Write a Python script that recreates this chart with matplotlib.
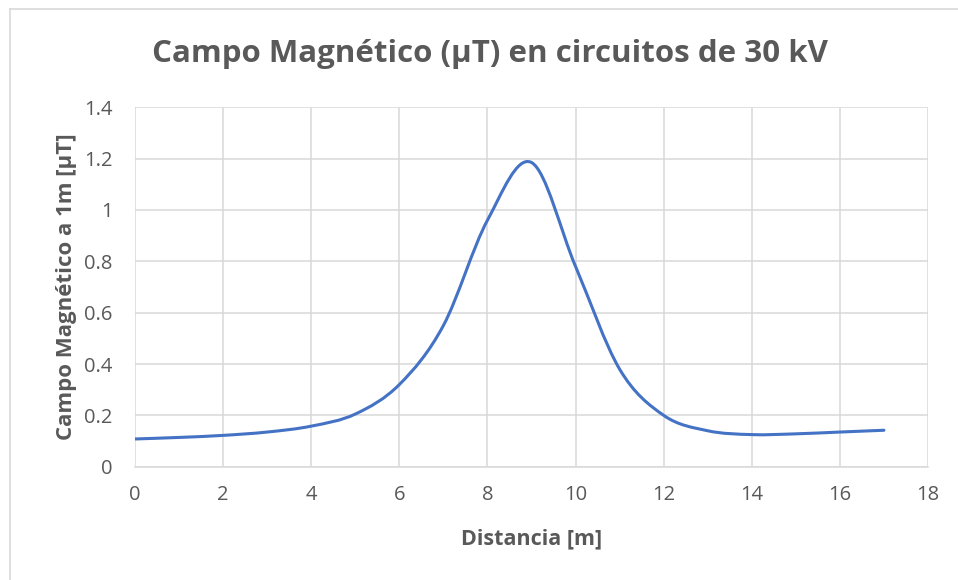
import matplotlib
matplotlib.use("Agg")
import matplotlib.pyplot as plt
from matplotlib.path import Path
from matplotlib.patches import PathPatch
from matplotlib.lines import Line2D
import numpy as np

# Data
distancia = [0, 1, 2, 3, 4, 5, 6, 7, 8, 9, 10, 11, 12, 13, 14, 15, 16, 17]
campo = [0.108, 0.114, 0.122, 0.135, 0.158, 0.205, 0.32, 0.55, 0.96, 1.185,
         0.78, 0.38, 0.20, 0.14, 0.125, 0.128, 0.135, 0.142]
x_ticks = [0, 2, 4, 6, 8, 10, 12, 14, 16, 18]
y_ticks = [0, 0.2, 0.4, 0.6, 0.8, 1.0, 1.2, 1.4]
y_ticklabels = ["0", "0.2", "0.4", "0.6", "0.8", "1", "1.2", "1.4"]
title = "Campo Magnético (µT) en circuitos de 30 kV"
xlabel = "Distancia [m]"
ylabel = "Campo Magnético a 1m [µT]"

plt.rcParams['font.family'] = ['Open Sans', 'DejaVu Sans']
GREY = "#595959"
GRID = "#d9d9d9"
BLUE = "#4472C4"

W, H = 958, 580
fig = plt.figure(figsize=(W / 100, H / 100), dpi=100)
ax = fig.add_axes([135 / W, 1 - 466.7 / H, (928 - 135) / W, (466.7 - 107.3) / H])

# Excel-style smoothed line (Bezier through data points)
pts = np.column_stack([distancia, campo]).astype(float)
n = len(pts)
verts = [tuple(pts[0])]
codes = [Path.MOVETO]
for i in range(n - 1):
    p0 = pts[i - 1] if i > 0 else pts[i]
    p1 = pts[i]
    p2 = pts[i + 1]
    p3 = pts[i + 2] if i + 2 < n else pts[i + 1]
    c1 = p1 + (p2 - p0) / 6.0
    c2 = p2 - (p3 - p1) / 6.0
    verts += [tuple(c1), tuple(c2), tuple(p2)]
    codes += [Path.CURVE4] * 3
patch = PathPatch(Path(verts, codes), facecolor='none', edgecolor=BLUE,
                  linewidth=2.2, capstyle='round', joinstyle='round', zorder=3)
ax.add_patch(patch)

ax.set_xlim(0, 18)
ax.set_ylim(0, 1.4)
ax.set_xticks(x_ticks)
ax.set_yticks(y_ticks)
ax.set_yticklabels(y_ticklabels)
ax.grid(True, color=GRID, linewidth=1.1)
ax.set_axisbelow(True)
for s in ['top', 'right', 'left']:
    ax.spines[s].set_visible(False)
ax.spines['bottom'].set_color(GRID)
ax.spines['bottom'].set_linewidth(1.1)
ax.tick_params(axis='both', length=0, labelsize=14.5, labelcolor=GREY)
ax.tick_params(axis='x', pad=13)
ax.tick_params(axis='y', pad=16)

ax.set_xlabel(xlabel, fontsize=15.5, fontweight='bold', color=GREY, labelpad=17)
ax.set_ylabel(ylabel, fontsize=16, fontweight='bold', color=GREY, labelpad=5)

fig.text(490 / W, 1 - 54 / H, title, ha='center', va='center',
         fontsize=22.5, fontweight='bold', color=GREY)

# chart border (left & top)
fig.add_artist(Line2D([10 / W, 10 / W], [0, 1 - 9 / H], transform=fig.transFigure,
                      color=GRID, linewidth=1.2))
fig.add_artist(Line2D([10 / W, 1], [1 - 9 / H, 1 - 9 / H], transform=fig.transFigure,
                      color=GRID, linewidth=1.2))

fig.savefig("out.png", dpi=100)
